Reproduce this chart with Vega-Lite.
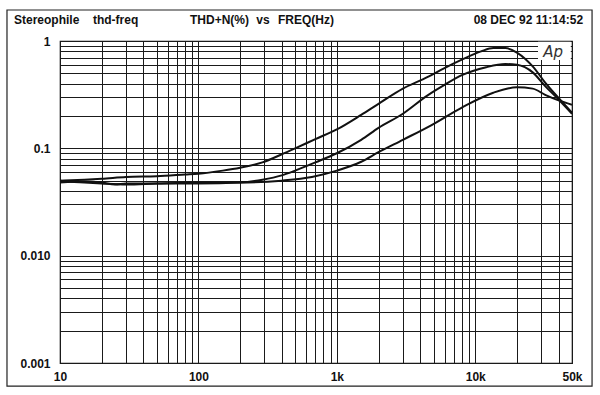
{
  "$schema": "https://vega.github.io/schema/vega-lite/v6.json",
  "width": 512,
  "height": 322,
  "autosize": "none",
  "padding": {"left": 60, "top": 41, "right": 28, "bottom": 32},
  "background": "white",
  "config": {
    "view": {"stroke": "#111", "strokeWidth": 1.2},
    "font": "Liberation Sans",
    "axis": {
      "domain": false,
      "ticks": false,
      "grid": true,
      "gridColor": "#1a1a1a",
      "gridOpacity": 1,
      "gridWidth": 1,
      "labelFont": "Liberation Sans",
      "labelFontWeight": "bold",
      "labelFontSize": 12,
      "labelColor": "#111",
      "title": null,
      "labelOverlap": false,
      "labelFlush": false
    }
  },
  "datasets": {
    "curves": [
      {"curve": "A", "freq": 10, "thd": 0.050},
      {"curve": "A", "freq": 15, "thd": 0.051},
      {"curve": "A", "freq": 20, "thd": 0.052},
      {"curve": "A", "freq": 30, "thd": 0.054},
      {"curve": "A", "freq": 50, "thd": 0.055},
      {"curve": "A", "freq": 80, "thd": 0.057},
      {"curve": "A", "freq": 100, "thd": 0.058},
      {"curve": "A", "freq": 150, "thd": 0.062},
      {"curve": "A", "freq": 200, "thd": 0.066},
      {"curve": "A", "freq": 290, "thd": 0.074},
      {"curve": "A", "freq": 400, "thd": 0.088},
      {"curve": "A", "freq": 500, "thd": 0.100},
      {"curve": "A", "freq": 700, "thd": 0.122},
      {"curve": "A", "freq": 1000, "thd": 0.150},
      {"curve": "A", "freq": 1500, "thd": 0.205},
      {"curve": "A", "freq": 2000, "thd": 0.260},
      {"curve": "A", "freq": 3000, "thd": 0.360},
      {"curve": "A", "freq": 4500, "thd": 0.460},
      {"curve": "A", "freq": 6000, "thd": 0.560},
      {"curve": "A", "freq": 8000, "thd": 0.670},
      {"curve": "A", "freq": 11000, "thd": 0.800},
      {"curve": "A", "freq": 13500, "thd": 0.860},
      {"curve": "A", "freq": 16500, "thd": 0.860},
      {"curve": "A", "freq": 20000, "thd": 0.780},
      {"curve": "A", "freq": 23000, "thd": 0.680},
      {"curve": "A", "freq": 26000, "thd": 0.580},
      {"curve": "A", "freq": 32000, "thd": 0.410},
      {"curve": "A", "freq": 40000, "thd": 0.295},
      {"curve": "A", "freq": 50000, "thd": 0.215},
      {"curve": "B", "freq": 10, "thd": 0.048},
      {"curve": "B", "freq": 15, "thd": 0.049},
      {"curve": "B", "freq": 20, "thd": 0.048},
      {"curve": "B", "freq": 25, "thd": 0.046},
      {"curve": "B", "freq": 30, "thd": 0.047},
      {"curve": "B", "freq": 50, "thd": 0.047},
      {"curve": "B", "freq": 100, "thd": 0.047},
      {"curve": "B", "freq": 200, "thd": 0.048},
      {"curve": "B", "freq": 290, "thd": 0.051},
      {"curve": "B", "freq": 400, "thd": 0.056},
      {"curve": "B", "freq": 500, "thd": 0.062},
      {"curve": "B", "freq": 700, "thd": 0.074},
      {"curve": "B", "freq": 1000, "thd": 0.090},
      {"curve": "B", "freq": 1500, "thd": 0.120},
      {"curve": "B", "freq": 2000, "thd": 0.155},
      {"curve": "B", "freq": 3000, "thd": 0.210},
      {"curve": "B", "freq": 4500, "thd": 0.310},
      {"curve": "B", "freq": 6000, "thd": 0.390},
      {"curve": "B", "freq": 8000, "thd": 0.480},
      {"curve": "B", "freq": 12000, "thd": 0.570},
      {"curve": "B", "freq": 16500, "thd": 0.610},
      {"curve": "B", "freq": 20000, "thd": 0.600},
      {"curve": "B", "freq": 26000, "thd": 0.510},
      {"curve": "B", "freq": 32000, "thd": 0.380},
      {"curve": "B", "freq": 40000, "thd": 0.285},
      {"curve": "B", "freq": 50000, "thd": 0.210},
      {"curve": "C", "freq": 10, "thd": 0.050},
      {"curve": "C", "freq": 15, "thd": 0.048},
      {"curve": "C", "freq": 20, "thd": 0.047},
      {"curve": "C", "freq": 30, "thd": 0.046},
      {"curve": "C", "freq": 50, "thd": 0.047},
      {"curve": "C", "freq": 100, "thd": 0.048},
      {"curve": "C", "freq": 200, "thd": 0.048},
      {"curve": "C", "freq": 400, "thd": 0.050},
      {"curve": "C", "freq": 660, "thd": 0.054},
      {"curve": "C", "freq": 1000, "thd": 0.062},
      {"curve": "C", "freq": 1500, "thd": 0.075},
      {"curve": "C", "freq": 2000, "thd": 0.092},
      {"curve": "C", "freq": 3000, "thd": 0.120},
      {"curve": "C", "freq": 4800, "thd": 0.164},
      {"curve": "C", "freq": 8000, "thd": 0.240},
      {"curve": "C", "freq": 13500, "thd": 0.330},
      {"curve": "C", "freq": 20000, "thd": 0.370},
      {"curve": "C", "freq": 26000, "thd": 0.360},
      {"curve": "C", "freq": 32000, "thd": 0.315},
      {"curve": "C", "freq": 40000, "thd": 0.280},
      {"curve": "C", "freq": 50000, "thd": 0.255}
    ]
  },
  "layer": [
    {
      "data": {"values": [{}]},
      "mark": {"type": "rect", "fill": "transparent", "stroke": "#222", "strokeWidth": 1.2, "clip": false},
      "encoding": {
        "x": {"datum": 4.14, "type": "quantitative", "scale": {"type": "log", "domain": [10, 50000], "nice": false}},
        "x2": {"datum": 69800},
        "y": {"datum": 1.945, "type": "quantitative", "scale": {"type": "log", "domain": [0.001, 1], "nice": false}},
        "y2": {"datum": 0.00061}
      }
    },
    {
      "data": {"name": "curves"},
      "mark": {"type": "line", "stroke": "#111", "strokeWidth": 2, "interpolate": "monotone", "clip": true},
      "encoding": {
        "x": {
          "field": "freq", "type": "quantitative",
          "scale": {"type": "log", "domain": [10, 50000], "nice": false},
          "axis": {
            "values": [10,20,30,40,50,60,70,80,90,100,200,300,400,500,600,700,800,900,1000,2000,3000,4000,5000,6000,7000,8000,9000,10000,20000,30000,40000,50000],
            "labelExpr": "datum.value == 10 ? '10' : datum.value == 100 ? '100' : datum.value == 1000 ? '1k' : datum.value == 10000 ? '10k' : datum.value == 50000 ? '50k' : ''",
            "labelPadding": 8
          }
        },
        "y": {
          "field": "thd", "type": "quantitative",
          "scale": {"type": "log", "domain": [0.001, 1], "nice": false},
          "axis": {
            "values": [0.001,0.002,0.003,0.004,0.005,0.006,0.007,0.008,0.009,0.01,0.02,0.03,0.04,0.05,0.06,0.07,0.08,0.09,0.1,0.2,0.3,0.4,0.5,0.6,0.7,0.8,0.9,1],
            "labelExpr": "datum.value == 1 ? '1' : datum.value == 0.1 ? '0.1' : datum.value == 0.01 ? '0.010' : datum.value == 0.001 ? '0.001' : ''",
            "labelPadding": 10
          }
        },
        "detail": {"field": "curve", "type": "nominal"}
      }
    },
    {
      "data": {"values": [{}]},
      "mark": {"type": "rect", "fill": "white", "stroke": null, "clip": false},
      "encoding": {
        "x": {"datum": 28400, "type": "quantitative", "scale": {"type": "log", "domain": [10, 50000], "nice": false}},
        "x2": {"datum": 49000},
        "y": {"datum": 0.985, "type": "quantitative", "scale": {"type": "log", "domain": [0.001, 1], "nice": false}},
        "y2": {"datum": 0.665}
      }
    },
    {
      "data": {"values": [{}]},
      "mark": {"type": "text", "text": "Ap", "font": "DejaVu Sans", "fontStyle": "italic", "fontSize": 15, "fontWeight": "normal", "color": "#333", "align": "center", "baseline": "middle", "clip": false},
      "encoding": {
        "x": {"datum": 36500, "type": "quantitative", "scale": {"type": "log", "domain": [10, 50000], "nice": false}},
        "y": {"datum": 0.79, "type": "quantitative", "scale": {"type": "log", "domain": [0.001, 1], "nice": false}}
      }
    },
    {
      "data": {"values": [{}]},
      "mark": {"type": "text", "text": "Stereophile", "font": "Liberation Sans", "fontWeight": "bold", "fontSize": 12, "color": "#111", "align": "left", "baseline": "middle", "clip": false},
      "encoding": {
        "x": {"datum": 4.65, "type": "quantitative", "scale": {"type": "log", "domain": [10, 50000], "nice": false}},
        "y": {"datum": 1.57, "type": "quantitative", "scale": {"type": "log", "domain": [0.001, 1], "nice": false}}
      }
    },
    {
      "data": {"values": [{}]},
      "mark": {"type": "text", "text": "thd-freq", "font": "Liberation Sans", "fontWeight": "bold", "fontSize": 12, "color": "#111", "align": "left", "baseline": "middle", "clip": false},
      "encoding": {
        "x": {"datum": 17.3, "type": "quantitative", "scale": {"type": "log", "domain": [10, 50000], "nice": false}},
        "y": {"datum": 1.57, "type": "quantitative", "scale": {"type": "log", "domain": [0.001, 1], "nice": false}}
      }
    },
    {
      "data": {"values": [{}]},
      "mark": {"type": "text", "text": "THD+N(%)", "font": "Liberation Sans", "fontWeight": "bold", "fontSize": 12, "color": "#111", "align": "left", "baseline": "middle", "clip": false},
      "encoding": {
        "x": {"datum": 86.9, "type": "quantitative", "scale": {"type": "log", "domain": [10, 50000], "nice": false}},
        "y": {"datum": 1.57, "type": "quantitative", "scale": {"type": "log", "domain": [0.001, 1], "nice": false}}
      }
    },
    {
      "data": {"values": [{}]},
      "mark": {"type": "text", "text": "vs", "font": "Liberation Sans", "fontWeight": "bold", "fontSize": 12, "color": "#111", "align": "left", "baseline": "middle", "clip": false},
      "encoding": {
        "x": {"datum": 262, "type": "quantitative", "scale": {"type": "log", "domain": [10, 50000], "nice": false}},
        "y": {"datum": 1.57, "type": "quantitative", "scale": {"type": "log", "domain": [0.001, 1], "nice": false}}
      }
    },
    {
      "data": {"values": [{}]},
      "mark": {"type": "text", "text": "FREQ(Hz)", "font": "Liberation Sans", "fontWeight": "bold", "fontSize": 12, "color": "#111", "align": "left", "baseline": "middle", "clip": false},
      "encoding": {
        "x": {"datum": 376, "type": "quantitative", "scale": {"type": "log", "domain": [10, 50000], "nice": false}},
        "y": {"datum": 1.57, "type": "quantitative", "scale": {"type": "log", "domain": [0.001, 1], "nice": false}}
      }
    },
    {
      "data": {"values": [{}]},
      "mark": {"type": "text", "text": "08 DEC 92 11:14:52", "font": "Liberation Sans", "fontWeight": "bold", "fontSize": 12, "color": "#111", "align": "right", "baseline": "middle", "clip": false},
      "encoding": {
        "x": {"datum": 60100, "type": "quantitative", "scale": {"type": "log", "domain": [10, 50000], "nice": false}},
        "y": {"datum": 1.57, "type": "quantitative", "scale": {"type": "log", "domain": [0.001, 1], "nice": false}}
      }
    }
  ]
}
